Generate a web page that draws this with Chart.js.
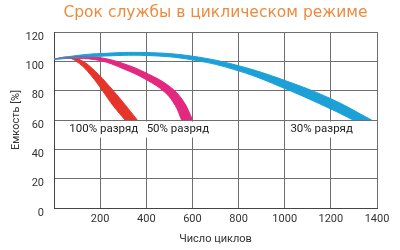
<!DOCTYPE html>
<html>
<head>
<meta charset="utf-8">
<script src="https://cdn.jsdelivr.net/npm/chart.js@4/dist/chart.umd.min.js"></script>
<style>
  html, body { margin: 0; padding: 0; background: #fff; }
  #wrap { width: 400px; height: 250px; }
</style>
</head>
<body>
<div id="wrap"><canvas id="myChart" width="400" height="250"></canvas></div>
<script>
// band edges: [cycles, capacity %]
const redUpper = [[0, 101.5], [60, 103], [120, 100.5], [180, 93], [240, 83], [300, 72], [361, 60]];
const redLower = [[0, 101.5], [60, 102.5], [110, 98.5], [160, 90.5], [210, 80], [260, 69], [308, 60]];
const pinkUpper = [[0, 101.5], [100, 103], [200, 102.5], [300, 98.5], [400, 92], [500, 83], [560, 73], [601, 60]];
const pinkLower = [[0, 101.5], [100, 102], [200, 100.5], [300, 95], [400, 87.5], [480, 79], [525, 70], [553, 60]];
const blueUpper = [[0, 101.5], [100, 104], [200, 105.3], [400, 106], [600, 103.5], [800, 97], [1000, 87], [1200, 74.5], [1377, 60]];
const blueLower = [[0, 101.5], [100, 102.5], [200, 103.5], [400, 104], [600, 101], [800, 93.5], [1000, 81.5], [1200, 67.5], [1297, 60]];

const chartTitle = 'Срок службы в циклическом режиме';
const bandLabels = ['100% разряд', '50% разряд', '30% разряд'];
const bandColors = ['#E5352B', '#E2287F', '#1BA0D7'];
const labelCycles = [216, 537, 1160];
const labelLevel = 53.5;

const toPts = arr => arr.map(p => ({ x: p[0], y: p[1] }));

function edge(points, color) {
    return { data: toPts(points), borderColor: color, borderWidth: 1, pointRadius: 0, fill: false, tension: 0.4 };
}

// fill the gap between each upper/lower pair (datasets come in pairs)
const bandFill = {
    id: 'bandFill',
    beforeDatasetsDraw(chart) {
        const { ctx, chartArea: a } = chart;
        ctx.save();
        ctx.beginPath();
        ctx.rect(a.left, a.top, a.right - a.left, a.bottom - a.top);
        ctx.clip();
        for (let i = 0; i < chart.data.datasets.length; i += 2) {
            const up = chart.getDatasetMeta(i).dataset;
            const lo = chart.getDatasetMeta(i + 1).dataset;
            ctx.fillStyle = chart.data.datasets[i].borderColor;
            ctx.beginPath();
            up.pathSegment(ctx, up.segments[0], { move: true });
            lo.pathSegment(ctx, lo.segments[0], { move: false, reverse: true });
            ctx.closePath();
            ctx.fill();
        }
        ctx.restore();
    }
};

// band captions on white boxes + title centred over the plot
const bandText = {
    id: 'bandText',
    afterDatasetsDraw(chart) {
        const { ctx, chartArea: a, scales: { x, y } } = chart;
        ctx.save();
        ctx.font = '11.5px Roboto';
        ctx.textAlign = 'center';
        ctx.textBaseline = 'middle';
        bandLabels.forEach((t, i) => {
            const px = x.getPixelForValue(labelCycles[i]);
            const py = y.getPixelForValue(labelLevel);
            const w = ctx.measureText(t).width;
            ctx.fillStyle = '#fff';
            ctx.fillRect(px - w / 2 - 4, py - 8, w + 8, 16);
            ctx.fillStyle = '#222';
            ctx.fillText(t, px, py);
        });
        ctx.font = '15.5px "DejaVu Sans"';
        ctx.fillStyle = '#EF8A3C';
        ctx.fillText(chartTitle, (a.left + a.right) / 2, 13);
        ctx.restore();
    }
};

new Chart(document.getElementById('myChart').getContext('2d'), {
    type: 'line',
    data: {
        datasets: [
            edge(blueUpper, bandColors[2]), edge(blueLower, bandColors[2]),
            edge(pinkUpper, bandColors[1]), edge(pinkLower, bandColors[1]),
            edge(redUpper, bandColors[0]), edge(redLower, bandColors[0])
        ]
    },
    options: {
        responsive: false,
        animation: false,
        layout: { padding: { left: 0, right: 23, top: 32, bottom: 0 } },
        plugins: {
            legend: { display: false },
            tooltip: { enabled: false }
        },
        scales: {
            x: {
                type: 'linear',
                min: 0,
                max: 1400,
                grid: { color: '#6e6e6e', drawTicks: false },
                border: { color: '#444' },
                ticks: {
                    stepSize: 200,
                    padding: 5,
                    color: '#333',
                    font: { family: 'Roboto', size: 11 },
                    callback: v => v === 0 ? '' : v
                },
                title: { display: true, text: 'Число циклов', color: '#333', font: { family: 'Roboto', size: 11 }, padding: { top: 8 } },
                afterFit(scale) { scale.height = 42; }
            },
            y: {
                min: 0,
                max: 120,
                grid: { color: '#6e6e6e', drawTicks: false },
                border: { color: '#444' },
                ticks: {
                    stepSize: 20,
                    padding: 10,
                    labelOffset: 5,
                    color: '#333',
                    font: { family: 'Roboto', size: 11 }
                },
                title: { display: true, text: 'Емкость [%]', color: '#333', font: { family: 'Roboto', size: 11 }, padding: { top: 10, bottom: 4 } },
                afterFit(scale) { scale.width = 54; }
            }
        }
    },
    plugins: [bandFill, bandText]
});
</script>
</body>
</html>
